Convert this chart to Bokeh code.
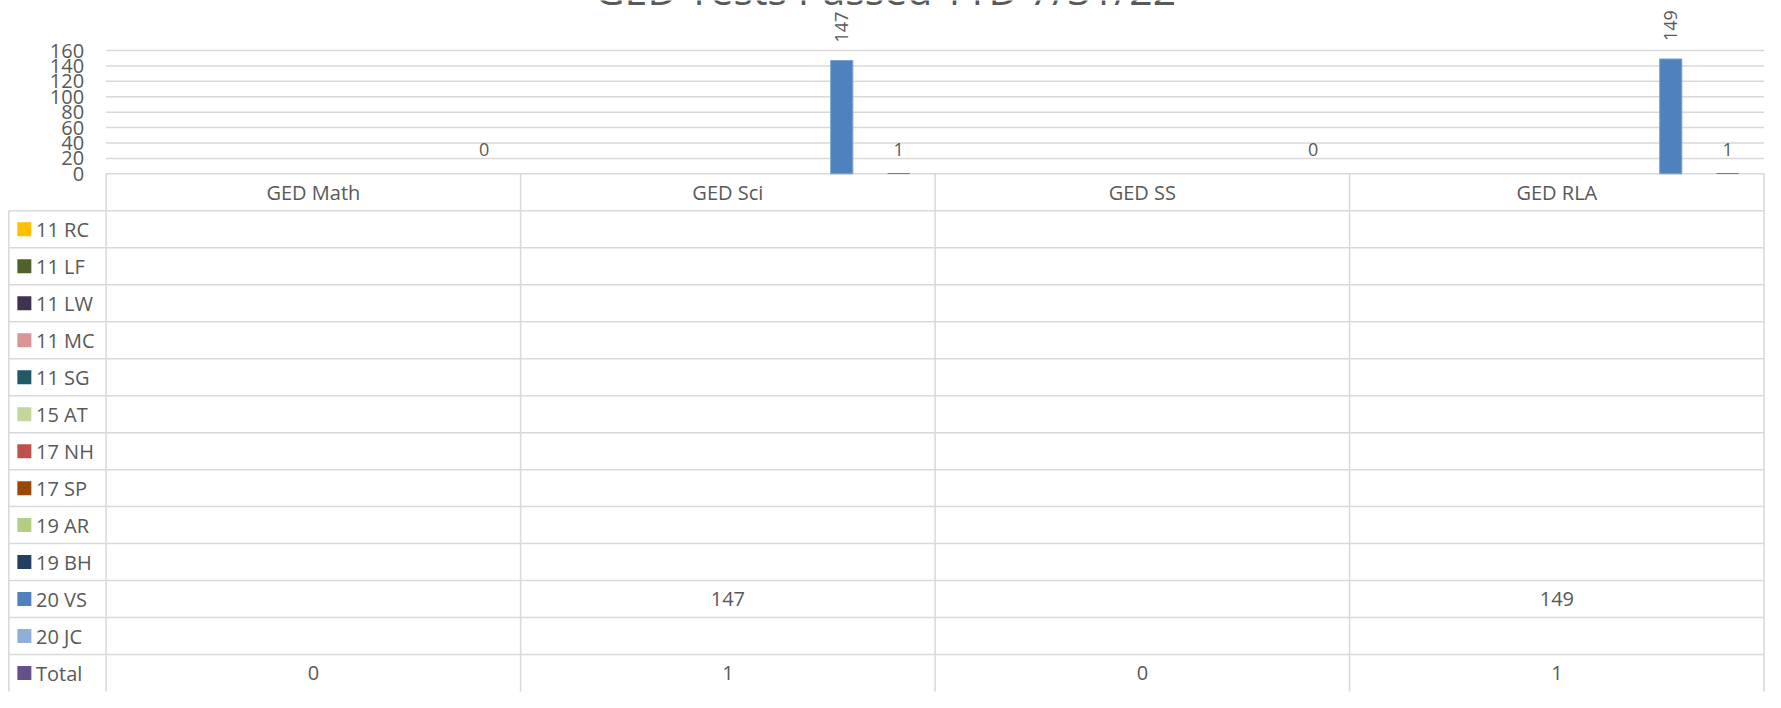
import math
from bokeh.plotting import figure
from bokeh.models import Range1d, LinearAxis, FixedTicker
from bokeh.core.properties import value
from bokeh.embed import file_html
from bokeh.resources import INLINE

# ---------------- data ----------------
title_text = "GED Tests Passed YTD 7/31/22"
categories = ["GED Math", "GED Sci", "GED SS", "GED RLA"]
series_names = ["11 RC", "11 LF", "11 LW", "11 MC", "11 SG", "15 AT", "17 NH",
                "17 SP", "19 AR", "19 BH", "20 VS", "20 JC", "Total"]
series_colors = ["#FFC000", "#4F6228", "#403151", "#D99694", "#215967", "#C3D69B",
                 "#C0504D", "#984807", "#B3CE84", "#243F60", "#4F81BD", "#8FAFD9",
                 "#65508A"]
s_11_rc = [None, None, None, None]
s_11_lf = [None, None, None, None]
s_11_lw = [None, None, None, None]
s_11_mc = [None, None, None, None]
s_11_sg = [None, None, None, None]
s_15_at = [None, None, None, None]
s_17_nh = [None, None, None, None]
s_17_sp = [None, None, None, None]
s_19_ar = [None, None, None, None]
s_19_bh = [None, None, None, None]
s_20_vs = [None, 147, None, 149]
s_20_jc = [None, None, None, None]
s_total = [0, 1, 0, 1]
series_values = [s_11_rc, s_11_lf, s_11_lw, s_11_mc, s_11_sg, s_15_at, s_17_nh,
                 s_17_sp, s_19_ar, s_19_bh, s_20_vs, s_20_jc, s_total]
y_ticks = [0, 20, 40, 60, 80, 100, 120, 140, 160]

# ---------------- layout constants (pixels) ----------------
W, H = 1765, 692
PLOT_LEFT_PX = 105.6
CAT_W_PX = 414.5
ZERO_PX = 173.3
PX_PER_UNIT = 0.7706
ROW_PX = 36.98
SLOT = 0.0687
BAR_W = 0.0535
TEXT_COLOR = "#595959"
LINE_COLOR = "#D9D9D9"
FONT = "Open Sans"

def px_to_x(px):
    return (px - PLOT_LEFT_PX) / CAT_W_PX

def px_to_y(py):
    return (ZERO_PX - py) / PX_PER_UNIT

x_range = Range1d(px_to_x(0), px_to_x(W))
y_range = Range1d(px_to_y(H), px_to_y(0))

p = figure(width=W, height=H, output_backend="svg", toolbar_location=None,
           x_range=x_range, y_range=y_range, x_axis_location=None,
           y_axis_location=None, min_border=0)
p.grid.visible = False
p.outline_line_color = None
p.background_fill_color = "white"
p.border_fill_color = "white"
p.extra_y_ranges = {"table": Range1d((H - ZERO_PX) / ROW_PX, -ZERO_PX / ROW_PX)}

n_cat = len(categories)
n_ser = len(series_names)
center_k = (n_ser - 1) / 2

# gridlines
p.segment(x0=[0] * len(y_ticks), x1=[n_cat] * len(y_ticks), y0=y_ticks, y1=y_ticks,
          line_color=LINE_COLOR, line_width=1.5)

# y axis
yaxis = LinearAxis(ticker=FixedTicker(ticks=y_ticks), fixed_location=0)
yaxis.axis_line_color = None
yaxis.major_tick_line_color = None
yaxis.minor_tick_line_color = None
yaxis.major_tick_in = 0
yaxis.major_tick_out = 0
yaxis.major_label_standoff = 22
yaxis.major_label_text_font = FONT
yaxis.major_label_text_font_size = "20px"
yaxis.major_label_text_color = TEXT_COLOR
p.add_layout(yaxis, "left")

# bars and labels
bx, btop, bcol, balpha = [], [], [], []
rx, ry, rt = [], [], []
hx, hy, ht = [], [], []
for k, (name, vals, col) in enumerate(zip(series_names, series_values, series_colors)):
    for c, v in enumerate(vals):
        if v is None:
            continue
        x = c + 0.5 + (k - center_k) * SLOT
        bx.append(x); btop.append(v); bcol.append(col)
        if name == "Total":
            balpha.append(0.0)
            hx.append(x); hy.append(v); ht.append(str(v))
        else:
            balpha.append(1.0)
            rx.append(x); ry.append(v); rt.append(str(v))

p.vbar(x=bx, top=btop, bottom=0, width=BAR_W, fill_color=bcol,
       line_color="#7EA3D1", line_alpha=balpha, line_width=1)
p.text(x=rx, y=ry, text=rt, angle=math.pi / 2, text_align="left",
       text_baseline="middle", y_offset=-18, text_font=value(FONT),
       text_font_size="18px", text_color=TEXT_COLOR)
p.text(x=hx, y=hy, text=ht, text_align="center", text_baseline="middle",
       y_offset=-24, text_font=value(FONT), text_font_size="18px",
       text_color=TEXT_COLOR)

# title (cut off at the top edge, as in the reference)
p.text(x=[px_to_x(885)], y=[px_to_y(-11.5)], text=[title_text],
       text_align="center", text_baseline="middle", text_font=value(FONT),
       text_font_size="41px", text_color=TEXT_COLOR)

# ---------------- data table ----------------
legend_left = px_to_x(8.3)
n_rows = n_ser + 1
p.segment(x0=[legend_left] * n_ser, x1=[n_cat] * n_ser,
          y0=list(range(1, n_rows + 1)), y1=list(range(1, n_rows + 1)),
          line_color=LINE_COLOR, line_width=1.5, y_range_name="table")
p.segment(x0=list(range(n_cat + 1)), x1=list(range(n_cat + 1)),
          y0=[0] * (n_cat + 1), y1=[n_rows] * (n_cat + 1),
          line_color=LINE_COLOR, line_width=1.5, y_range_name="table")
p.segment(x0=[legend_left], x1=[legend_left], y0=[1], y1=[n_rows],
          line_color=LINE_COLOR, line_width=1.5, y_range_name="table")

# header
p.text(x=[c + 0.5 for c in range(n_cat)], y=[0.5] * n_cat, text=categories,
       text_align="center", text_baseline="middle", text_font=value(FONT),
       text_font_size="20px", text_color=TEXT_COLOR, y_range_name="table")

# legend keys
row_y = [k + 1.5 for k in range(n_ser)]
p.rect(x=[px_to_x(23.85)] * n_ser, y=row_y, width=14, height=14,
       width_units="screen", height_units="screen", fill_color=series_colors,
       line_color=None, y_range_name="table")
p.text(x=[px_to_x(35.5)] * n_ser, y=row_y, text=series_names, text_align="left",
       text_baseline="middle", text_font=value(FONT), text_font_size="20px",
       text_color=TEXT_COLOR, y_range_name="table")

# cell values
tx, ty, tt = [], [], []
for k, vals in enumerate(series_values):
    for c, v in enumerate(vals):
        if v is None:
            continue
        tx.append(c + 0.5); ty.append(k + 1.5); tt.append(str(v))
p.text(x=tx, y=ty, text=tt, text_align="center", text_baseline="middle",
       text_font=value(FONT), text_font_size="20px", text_color=TEXT_COLOR,
       y_range_name="table")

open("out.html", "w").write(file_html(p, INLINE))
